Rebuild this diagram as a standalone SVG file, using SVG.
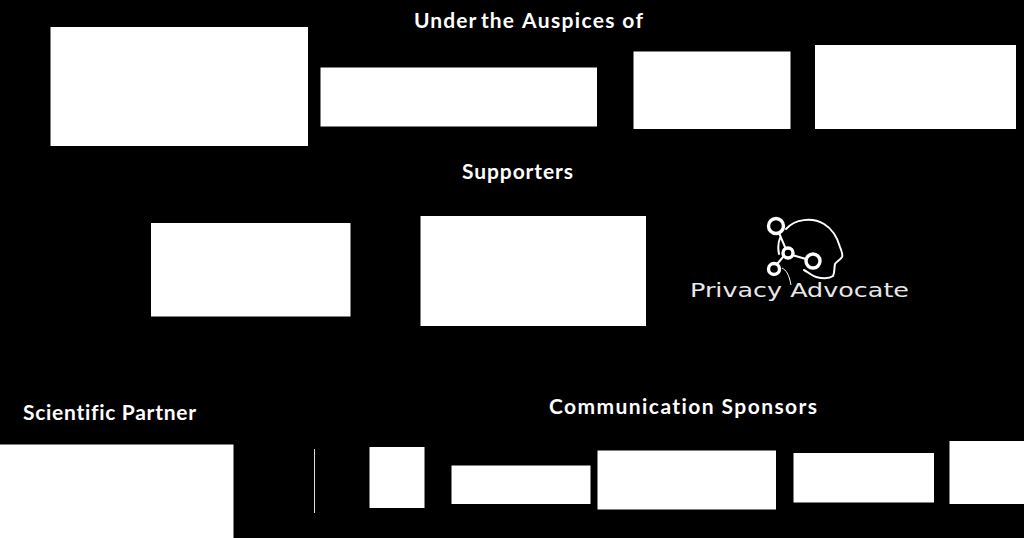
<svg xmlns="http://www.w3.org/2000/svg" width="1024" height="538" viewBox="0 0 1024 538">
<style>
.box{fill:#fff}
.h{font-family:"Lato","Liberation Sans",sans-serif;font-weight:700;font-size:21px;fill:#fff;font-variant-ligatures:none}
.ring{fill:none;stroke:#fff;stroke-width:3.4}
.ln{fill:none;stroke:#fff;stroke-width:2;stroke-linecap:round;stroke-linejoin:round}
</style>
<rect width="1024" height="538" fill="#000"/>
<g id="heading-auspices"><text class="h" y="28"><tspan x="414" textLength="62" lengthAdjust="spacing">Under</tspan> <tspan x="481" textLength="33" lengthAdjust="spacing">the</tspan> <tspan x="522" textLength="121" lengthAdjust="spacing">Auspices of</tspan></text></g>
<g id="heading-supporters"><text class="h" x="462" y="179" textLength="111" lengthAdjust="spacing">Supporters</text></g>
<g id="heading-scientific"><text class="h" x="23" y="420" textLength="173" lengthAdjust="spacing">Scientific Partner</text></g>
<g id="heading-communication"><text class="h" x="549" y="414" textLength="268" lengthAdjust="spacing">Communication Sponsors</text></g>
<g id="auspice-1"><rect class="box" x="50.5" y="27" width="257.5" height="119"/></g>
<g id="auspice-2"><rect class="box" x="320.5" y="67.5" width="276.5" height="59"/></g>
<g id="auspice-3"><rect class="box" x="633.5" y="51.5" width="157" height="77.5"/></g>
<g id="auspice-4"><rect class="box" x="815" y="45" width="201" height="84"/></g>
<g id="supporter-1"><rect class="box" x="151" y="223" width="199.5" height="93.5"/></g>
<g id="supporter-2"><rect class="box" x="420.5" y="216" width="225.5" height="110"/></g>
<g id="privacy-advocate">
<path class="ln" d="M786 229C795 219 812 217 824 224C834 230 838 240 840 247C842 252 843 255 842 257C840 260 836 262 835 264C834 268 835 272 833 276C829 279 824 279 816 277C812 276 808 272 804 270"/>
<path class="ln" d="M779 233L785 247M792 255L806 259M783 257L778 263M780 238C778 243 778 249 779 254"/>
<path d="M782 268C786 270 789 274 791 285" fill="none" stroke="#fff" stroke-width="1"/>
<circle class="ring" cx="776" cy="226" r="7.5"/>
<circle class="ring" cx="788" cy="253" r="5"/>
<circle class="ring" cx="813" cy="261" r="7"/>
<circle class="ring" cx="774" cy="269" r="5.5"/>
<text x="690" y="297" font-family="'DejaVu Sans','Liberation Sans',sans-serif" font-size="20" fill="#e8e8e8" textLength="219" lengthAdjust="spacingAndGlyphs">Privacy Advocate</text>
</g>
<g id="scientific-partner"><rect class="box" x="0" y="444.5" width="233.5" height="93.5"/></g>
<g id="scientific-divider"><rect x="314" y="449" width="1" height="64" fill="#ddd"/></g>
<g id="scientific-2"><rect class="box" x="369.5" y="447" width="55" height="61"/></g>
<g id="sponsor-1"><rect class="box" x="451.5" y="465.5" width="139" height="38.5"/></g>
<g id="sponsor-2"><rect class="box" x="597.5" y="450.5" width="178.5" height="59"/></g>
<g id="sponsor-3"><rect class="box" x="793.5" y="453" width="140.5" height="49.5"/></g>
<g id="sponsor-4"><rect class="box" x="949.5" y="441" width="74.5" height="63"/></g>
<g id="connectors"></g>
</svg>
